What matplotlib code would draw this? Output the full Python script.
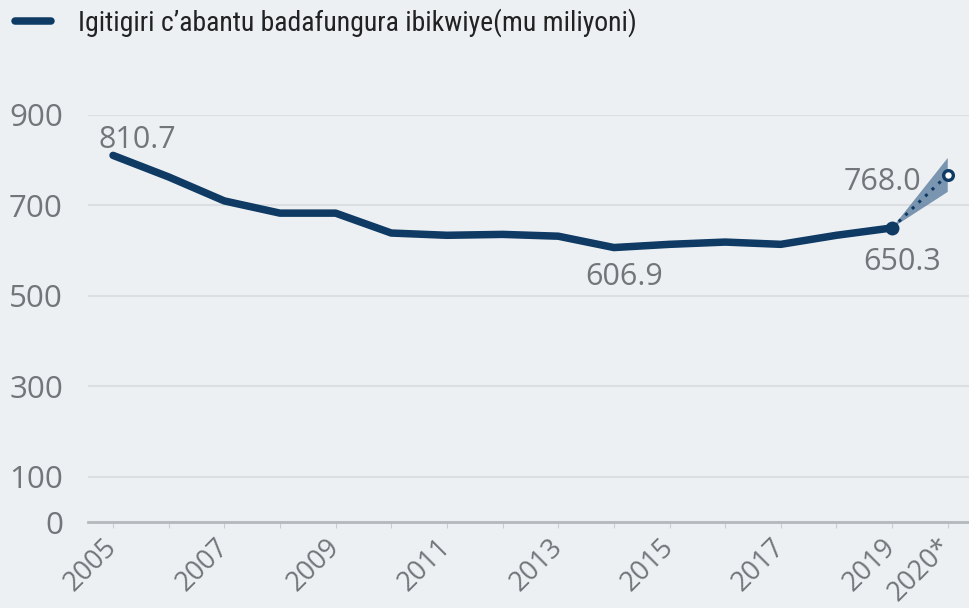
import matplotlib.pyplot as plt
import matplotlib.transforms as mtransforms
from matplotlib.patches import Polygon

# Data
years = [2005, 2006, 2007, 2008, 2009, 2010, 2011, 2012, 2013, 2014,
         2015, 2016, 2017, 2018, 2019]
values = [810.7, 763, 710, 683, 683, 639, 634, 636, 632, 606.9,
          614, 619, 614, 634, 650.3]
forecast_years = [2019, 2020]
forecast_values = [650.3, 768.0]
band_low = [650.3, 730]
band_high = [650.3, 805]

tick_years = list(range(2005, 2021))
tick_labels = ["2005", "", "2007", "", "2009", "", "2011", "", "2013", "",
               "2015", "", "2017", "", "2019", "2020*"]
y_ticks = [0, 100, 300, 500, 700, 900]

legend_label = "Igitigiri c’abantu badafungura ibikwiye(mu miliyoni)"

bg = "#edf0f3"
navy = "#0e3a64"
grey_text = "#72767a"

fig = plt.figure(figsize=(9.7, 6.08), dpi=100, facecolor=bg)
ax = fig.add_axes([88 / 970, 86 / 608, 1 - 88 / 970, 407 / 608], facecolor=bg)

# main series
ax.plot(years, values, color=navy, lw=5.4, solid_capstyle="round",
        solid_joinstyle="round", label=legend_label, zorder=4)
ax.plot(years[-1], values[-1], "o", color=navy, ms=9, zorder=5)

# forecast with uncertainty band
band = list(zip(forecast_years, band_low)) + list(zip(forecast_years[::-1], band_high[::-1]))
ax.add_patch(Polygon(band, closed=True, facecolor="#6585a5", edgecolor="none",
                     alpha=0.85, zorder=3, clip_on=False))
ax.plot(forecast_years, forecast_values, color=navy, lw=2.2, ls=(0, (1, 2)), zorder=4)
ax.plot(forecast_years[-1], forecast_values[-1], "o", ms=7, mfc="white",
        mec=navy, mew=2.4, zorder=6, clip_on=False)

# value labels
lab_kw = dict(textcoords="offset points", fontsize=22, color=grey_text,
              family="Open Sans")
ax.annotate(f"{values[0]:.1f}", (years[0], values[0]), xytext=(17.5, 11),
            ha="center", va="center", **lab_kw)
ax.annotate(f"{values[9]:.1f}", (years[9], values[9]), xytext=(7.5, -21),
            ha="center", va="center", **lab_kw)
ax.annotate(f"{values[-1]:.1f}", (years[-1], values[-1]), xytext=(7.5, -24.5),
            ha="center", va="center", **lab_kw)
ax.annotate(f"{forecast_values[-1]:.1f}", (forecast_years[-1], forecast_values[-1]),
            xytext=(-19, -5), ha="right", va="center", **lab_kw)

# axes styling
ax.set_xlim(2004.55, 2020.4)
ax.set_ylim(0, 900)
ax.set_yticks(y_ticks)
ax.set_yticklabels([str(v) for v in y_ticks], fontsize=22.5, color=grey_text,
                   family="Open Sans")
ax.set_xticks(tick_years)
ax.set_xticklabels(tick_labels, fontsize=19.5, color=grey_text, family="Open Sans",
                   rotation=45, ha="right", va="center", rotation_mode="anchor")
shift = mtransforms.ScaledTranslation(4 / 100, 0, fig.dpi_scale_trans)
for lbl in ax.get_xticklabels():
    lbl.set_transform(lbl.get_transform() + shift)
ax.tick_params(axis="y", length=0, pad=18)
ax.tick_params(axis="x", length=4, color="#c9cdd1", pad=11)
ax.grid(axis="y", color="#dcdfe2", lw=1.5)
ax.set_axisbelow(True)
for s in ["top", "right", "left"]:
    ax.spines[s].set_visible(False)
ax.spines["bottom"].set_color("#b4b9bd")
ax.spines["bottom"].set_linewidth(2)
ax.spines["bottom"].set_zorder(2)

# legend
leg = fig.legend(loc="center left", bbox_to_anchor=(15 / 970, 1 - 23 / 608),
                 frameon=False, handlelength=1.3, handletextpad=0.95,
                 borderpad=0, borderaxespad=0,
                 prop={"family": ["Roboto Condensed", "Liberation Sans Narrow", "Roboto"],
                       "stretch": "condensed", "size": 20})
for t in leg.get_texts():
    t.set_color("#222222")

fig.savefig("out.png", dpi=100, facecolor=bg)
